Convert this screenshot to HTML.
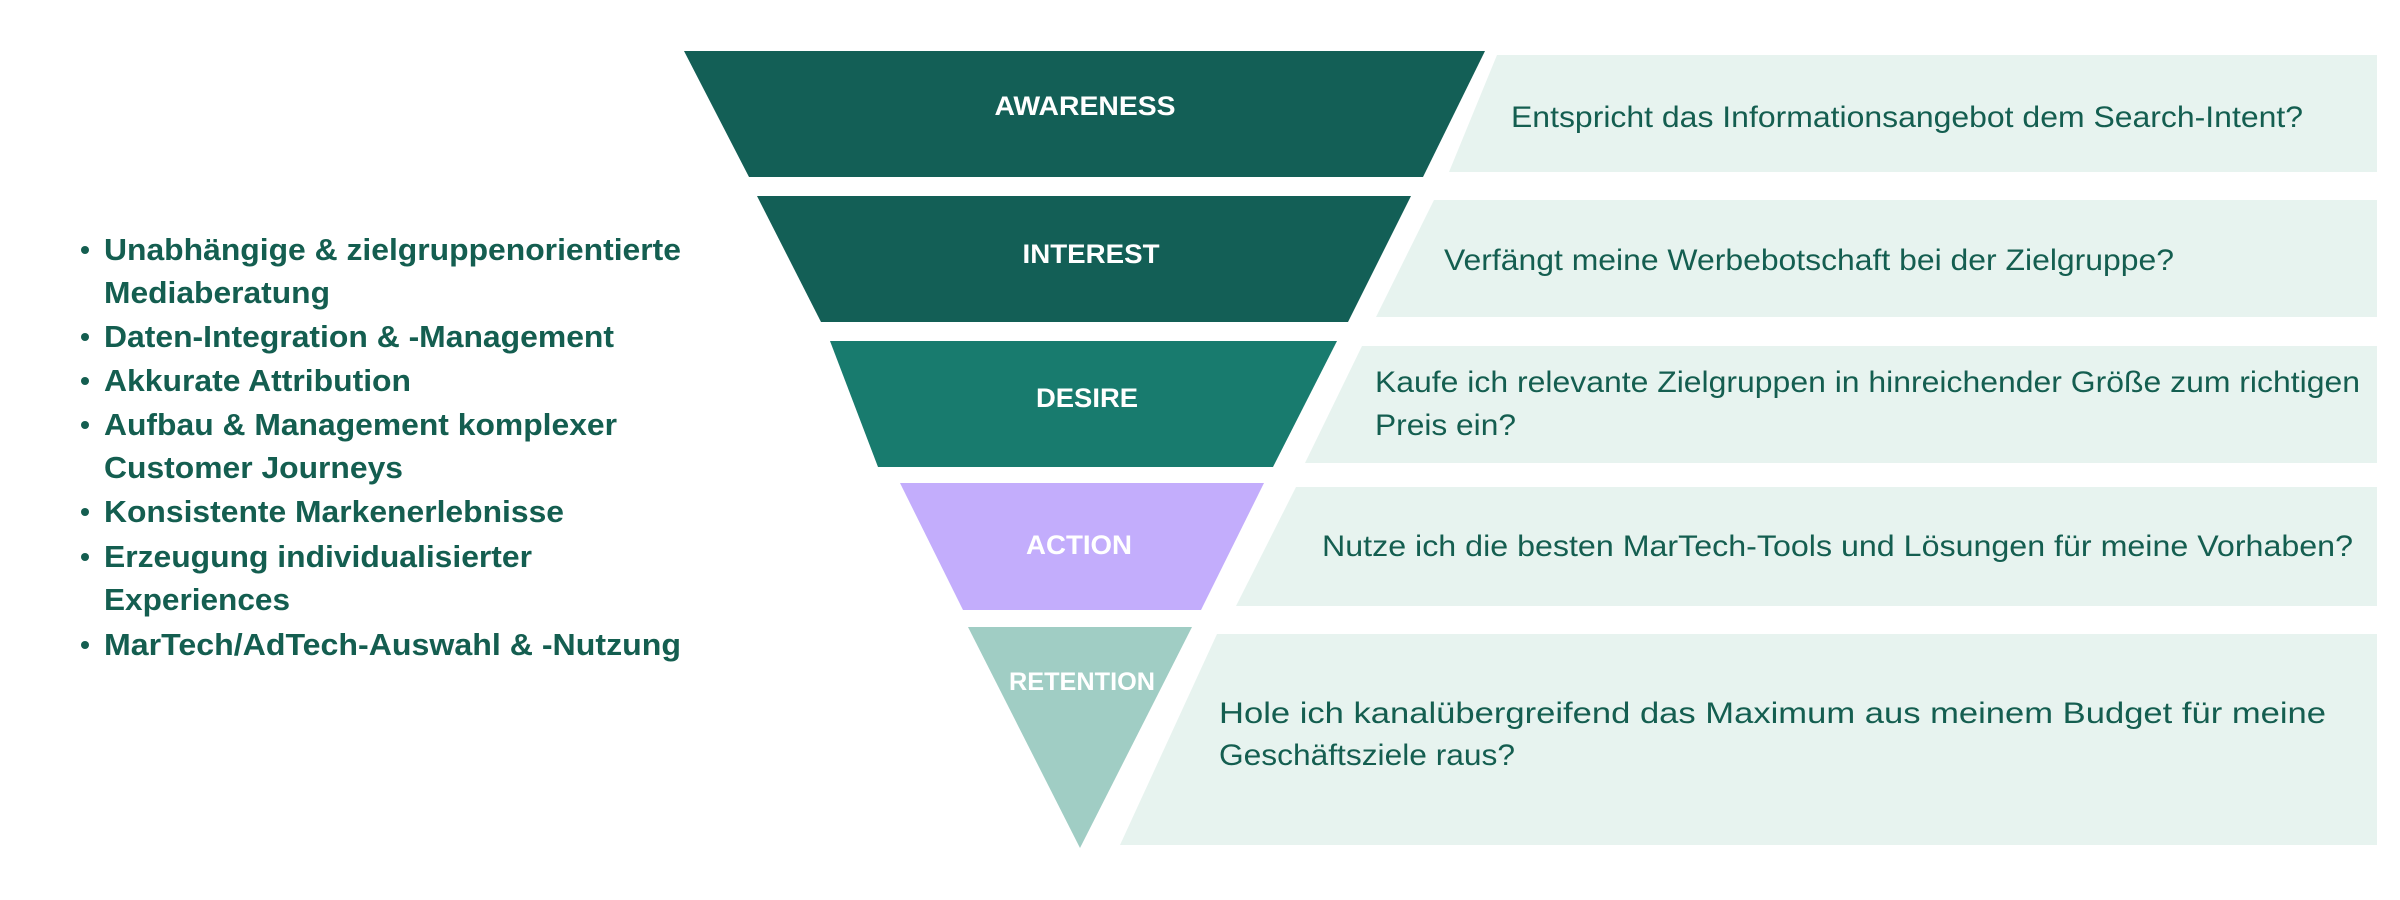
<!DOCTYPE html>
<html><head><meta charset="utf-8"><style>
html,body{margin:0;padding:0;background:#fff;}
svg{display:block;}
</style></head><body>
<svg width="2400" height="900" viewBox="0 0 2400 900" xmlns="http://www.w3.org/2000/svg">
<g fill="#e7f3ef">
<polygon points="1497,55 2377,55 2377,172 1449,172"/>
<polygon points="1434,200 2377,200 2377,317 1376,317"/>
<polygon points="1362,346 2377,346 2377,463 1305,463"/>
<polygon points="1296,487 2377,487 2377,606 1236,606"/>
<polygon points="1217,634 2377,634 2377,845 1120,845"/>
</g>
<polygon points="684,51 1485,51 1423,177 749,177" fill="#135f56"/>
<polygon points="757,196 1411,196 1348,322 821,322" fill="#135f56"/>
<polygon points="830,341 1337,341 1273,467 878,467" fill="#187b6e"/>
<polygon points="900,483 1264,483 1201,610 963,610" fill="#c3adfc"/>
<polygon points="968,627 1192,627 1080,848" fill="#a0cdc4"/>
<g font-family="Liberation Sans, sans-serif" font-weight="bold" fill="#fff" text-anchor="middle" font-size="27">
<text x="1085" y="115" textLength="181" lengthAdjust="spacingAndGlyphs">AWARENESS</text>
<text x="1091" y="263" textLength="137" lengthAdjust="spacingAndGlyphs">INTEREST</text>
<text x="1087" y="407" textLength="102" lengthAdjust="spacingAndGlyphs">DESIRE</text>
<text x="1079" y="554" textLength="106" lengthAdjust="spacingAndGlyphs">ACTION</text>
<text x="1082" y="690" font-size="25" textLength="146" lengthAdjust="spacingAndGlyphs">RETENTION</text>
</g>
<g font-family="Liberation Sans, sans-serif" fill="#145e50" font-size="30">
<text x="1511" y="127" textLength="792" lengthAdjust="spacingAndGlyphs">Entspricht das Informationsangebot dem Search-Intent?</text>
<text x="1444" y="270" textLength="730" lengthAdjust="spacingAndGlyphs">Verfängt meine Werbebotschaft bei der Zielgruppe?</text>
<text x="1375" y="392" textLength="985" lengthAdjust="spacingAndGlyphs">Kaufe ich relevante Zielgruppen in hinreichender Größe zum richtigen</text>
<text x="1375" y="435" textLength="141" lengthAdjust="spacingAndGlyphs">Preis ein?</text>
<text x="1322" y="556" textLength="1031" lengthAdjust="spacingAndGlyphs">Nutze ich die besten MarTech-Tools und Lösungen für meine Vorhaben?</text>
<text x="1219" y="723" textLength="1107" lengthAdjust="spacingAndGlyphs">Hole ich kanalübergreifend das Maximum aus meinem Budget für meine</text>
<text x="1219" y="765" textLength="296" lengthAdjust="spacingAndGlyphs">Geschäftsziele raus?</text>
</g>
<g fill="#145e50">
<circle cx="85" cy="250" r="4"/><circle cx="85" cy="337" r="4"/><circle cx="85" cy="381" r="4"/>
<circle cx="85" cy="425" r="4"/><circle cx="85" cy="512" r="4"/><circle cx="85" cy="557" r="4"/>
<circle cx="85" cy="645" r="4"/>
</g>
<g font-family="Liberation Sans, sans-serif" font-weight="bold" fill="#145e50" font-size="31">
<text x="104" y="260" textLength="577" lengthAdjust="spacingAndGlyphs">Unabhängige &amp; zielgruppenorientierte</text>
<text x="104" y="303" textLength="226" lengthAdjust="spacingAndGlyphs">Mediaberatung</text>
<text x="104" y="347" textLength="510" lengthAdjust="spacingAndGlyphs">Daten-Integration &amp; -Management</text>
<text x="104" y="391" textLength="307" lengthAdjust="spacingAndGlyphs">Akkurate Attribution</text>
<text x="104" y="435" textLength="513" lengthAdjust="spacingAndGlyphs">Aufbau &amp; Management komplexer</text>
<text x="104" y="478" textLength="299" lengthAdjust="spacingAndGlyphs">Customer Journeys</text>
<text x="104" y="522" textLength="460" lengthAdjust="spacingAndGlyphs">Konsistente Markenerlebnisse</text>
<text x="104" y="567" textLength="428" lengthAdjust="spacingAndGlyphs">Erzeugung individualisierter</text>
<text x="104" y="610" textLength="186" lengthAdjust="spacingAndGlyphs">Experiences</text>
<text x="104" y="655" textLength="577" lengthAdjust="spacingAndGlyphs">MarTech/AdTech-Auswahl &amp; -Nutzung</text>
</g>
</svg>
</body></html>
